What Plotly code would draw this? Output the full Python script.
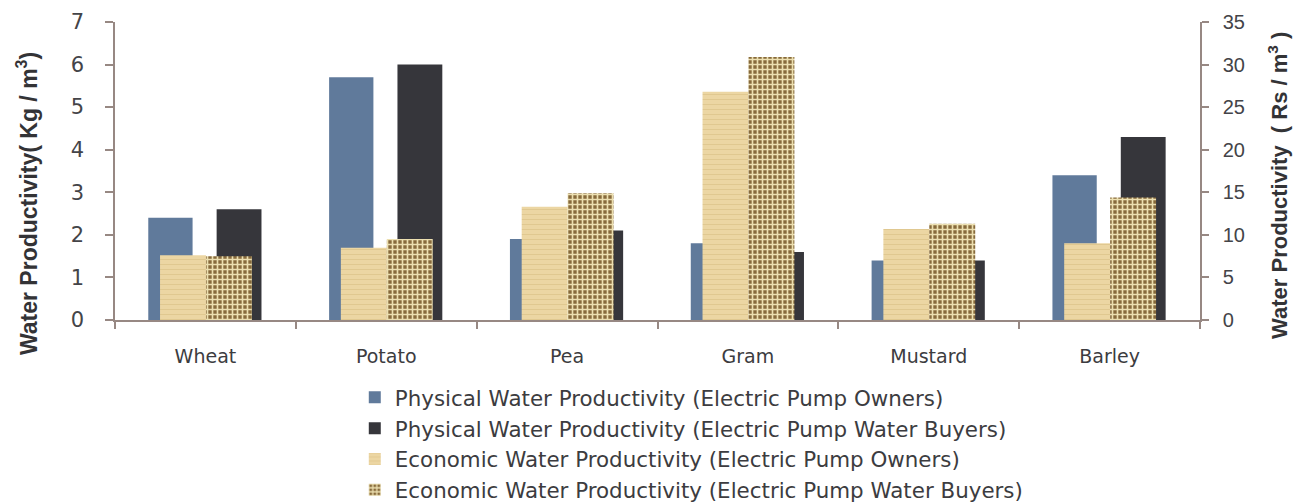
import plotly.graph_objects as go

# Crops and measured productivity values
crops = ["Wheat", "Potato", "Pea", "Gram", "Mustard", "Barley"]

# Physical water productivity, Kg / m3 (left axis)
phys_owners = [2.4, 5.7, 1.9, 1.8, 1.4, 3.4]
phys_buyers = [2.6, 6.0, 2.1, 1.6, 1.4, 4.3]

# Economic water productivity, Rs / m3 (right axis)
econ_owners = [7.6, 8.5, 13.3, 26.8, 10.7, 9.0]
econ_buyers = [7.5, 9.5, 14.9, 30.9, 11.3, 14.4]

left_ticks = [0, 1, 2, 3, 4, 5, 6, 7]
right_ticks = [0, 5, 10, 15, 20, 25, 30, 35]

names = [
    "Physical Water Productivity (Electric Pump Owners)",
    "Physical Water Productivity (Electric Pump Water Buyers)",
    "Economic Water Productivity (Electric Pump Owners)",
    "Economic Water Productivity (Electric Pump Water Buyers)",
]

left_title = "Water Productivity( Kg / m<sup>3</sup>)"
right_title = "Water Productivity  ( Rs / m<sup>3</sup> )"

GOTHIC = "DejaVu Sans"
ARIAL = "Liberation Sans"
AXIS_COLOR = "#978883"
TEXT_COLOR = "#3c3c40"

fig = go.Figure()

# Physical bars: wide, spread apart within each category
fig.add_trace(go.Bar(
    x=crops, y=phys_owners, name=names[0], yaxis="y",
    offset=-0.316, width=0.245,
    marker=dict(color="#607a9b", line=dict(width=0)),
    legendgroup="g1",
))
fig.add_trace(go.Bar(
    x=crops, y=phys_buyers, name=names[1], yaxis="y",
    offset=0.062, width=0.248,
    marker=dict(color="#36363b", line=dict(width=0)),
    legendgroup="g2",
))

# Economic bars: drawn on the secondary axis, in front of the physical bars
fig.add_trace(go.Bar(
    x=crops, y=econ_owners, name=names[2], yaxis="y2",
    offset=-0.251, width=0.254,
    marker=dict(
        color="#ead39e",
        line=dict(width=0),
        pattern=dict(shape="-", fgcolor="#dcc38a", bgcolor="#ecd6a3",
                     size=5, solidity=0.15, fillmode="replace"),
    ),
    legendgroup="g3",
))
fig.add_trace(go.Bar(
    x=crops, y=econ_buyers, name=names[3], yaxis="y2",
    offset=0.003, width=0.254,
    marker=dict(
        color="#9a7d45",
        line=dict(width=0),
        pattern=dict(shape="+", fgcolor="#ecdfb0", bgcolor="#876a3b",
                     size=5, solidity=0.55, fillmode="replace"),
    ),
    legendgroup="g4",
))

# Axis titles, placed as rotated annotations beside each axis
title_font = dict(family=ARIAL, color="#333336", weight="bold")
annotations = [
    dict(text=left_title, xref="paper", yref="paper",
         x=-0.0811, y=0.389, xanchor="center", yanchor="middle",
         textangle=-90, showarrow=False,
         font=dict(size=23, **title_font)),
    dict(text=right_title, xref="paper", yref="paper",
         x=1.0719, y=0.45, xanchor="center", yanchor="middle",
         textangle=-90, showarrow=False,
         font=dict(size=22, **title_font)),
]

fig.update_layout(
    width=1295, height=502,
    margin=dict(l=115, r=95, t=22, b=182, pad=0, autoexpand=False),
    paper_bgcolor="white", plot_bgcolor="white",
    barmode="overlay",
    showlegend=True,
    font=dict(family=GOTHIC, color=TEXT_COLOR, size=18),
    annotations=annotations,
    xaxis=dict(
        type="category",
        showgrid=False, zeroline=False,
        showline=True, linecolor=AXIS_COLOR, linewidth=1.5,
        ticks="outside", tickson="boundaries", ticklen=7,
        tickcolor=AXIS_COLOR, tickwidth=1.5,
        tickfont=dict(family=GOTHIC, size=19, color=TEXT_COLOR),
        ticklabelstandoff=18,
    ),
    yaxis=dict(
        range=[0, 7], tickvals=left_ticks,
        showgrid=False, zeroline=False,
        showline=True, linecolor=AXIS_COLOR, linewidth=1.5,
        ticks="outside", ticklen=8, tickcolor=AXIS_COLOR, tickwidth=1.5,
        tickfont=dict(family=GOTHIC, size=21, color="#444448"),
        ticklabelstandoff=17,
    ),
    yaxis2=dict(
        range=[0, 35], tickvals=right_ticks,
        overlaying="y", side="right",
        showgrid=False, zeroline=False,
        showline=True, linecolor=AXIS_COLOR, linewidth=1.5,
        ticks="outside", ticklen=7, tickcolor=AXIS_COLOR, tickwidth=1.5,
        tickfont=dict(family=ARIAL, size=20, color="#444448"),
        ticklabelstandoff=10,
    ),
    legend=dict(
        x=0.221, y=-0.191, xanchor="left", yanchor="top",
        orientation="v", traceorder="normal",
        font=dict(family=GOTHIC, size=21.4, color=TEXT_COLOR),
        bgcolor="rgba(0,0,0,0)",
        tracegroupgap=2,
        itemclick=False,
    ),
)

fig.write_html("out.html")
